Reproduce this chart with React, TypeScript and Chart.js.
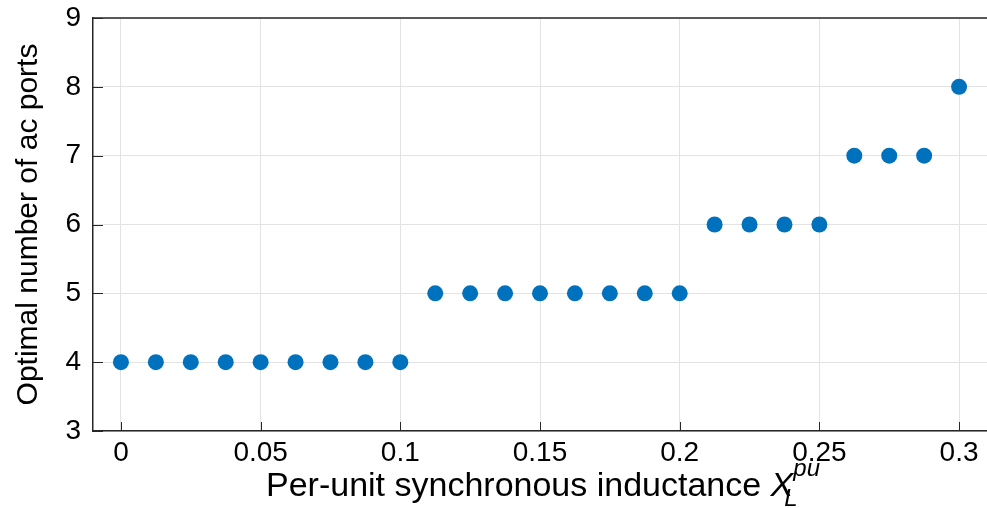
import React, { useEffect, useRef } from "react";
import { Chart, registerables } from "chart.js";

Chart.register(...registerables);

const inductanceValues = [0, 0.0125, 0.025, 0.0375, 0.05, 0.0625, 0.075, 0.0875, 0.1, 0.1125, 0.125, 0.1375, 0.15, 0.1625, 0.175, 0.1875, 0.2, 0.2125, 0.225, 0.2375, 0.25, 0.2625, 0.275, 0.2875, 0.3];
const optimalPorts = [4, 4, 4, 4, 4, 4, 4, 4, 4, 5, 5, 5, 5, 5, 5, 5, 5, 6, 6, 6, 6, 7, 7, 7, 8];
const xTickValues = [0, 0.05, 0.1, 0.15, 0.2, 0.25, 0.3];
const xTickLabels = ["0", "0.05", "0.1", "0.15", "0.2", "0.25", "0.3"];
const yTickValues = [3, 4, 5, 6, 7, 8, 9];
const xTitleMain = "Per-unit synchronous inductance ";
const xTitleSymbol = "X";
const xTitleSub = "L";
const xTitleSup = "pu";
const yTitle = "Optimal number of ac ports";

const FONT = "'Liberation Sans', Arial, sans-serif";
const AXIS_COLOR = "#262626";

const framePlugin = {
  id: "framePlugin",
  afterDraw(chart: any) {
    const ctx = chart.ctx;
    const { left, right, top, bottom } = chart.chartArea;
    const xs = chart.scales.x;
    const ys = chart.scales.y;
    ctx.save();
    ctx.strokeStyle = AXIS_COLOR;
    ctx.lineWidth = 1.5;
    ctx.beginPath();
    ctx.moveTo(left, top);
    ctx.lineTo(right, top);
    ctx.stroke();
    ctx.lineWidth = 1;
    ctx.beginPath();
    for (const v of yTickValues) {
      const py = Math.round(ys.getPixelForValue(v)) + 0.5;
      ctx.moveTo(left, py);
      ctx.lineTo(left + 10, py);
    }
    for (const v of xTickValues) {
      const px = Math.round(xs.getPixelForValue(v)) + 0.5;
      ctx.moveTo(px, bottom);
      ctx.lineTo(px, bottom - 9);
    }
    ctx.stroke();

    // x title with italic symbol, subscript and superscript
    ctx.fillStyle = "#000";
    ctx.textBaseline = "alphabetic";
    ctx.textAlign = "left";
    const mainFont = `34px ${FONT}`;
    const symFont = `italic 34px ${FONT}`;
    const smallFont = `italic 24px ${FONT}`;
    ctx.font = mainFont;
    const wMain = ctx.measureText(xTitleMain).width;
    ctx.font = symFont;
    const wSym = ctx.measureText(xTitleSymbol).width;
    ctx.font = smallFont;
    const wSup = ctx.measureText(xTitleSup).width;
    const total = wMain + wSym + wSup;
    const cx = 543;
    let x = cx - total / 2;
    const base = 496;
    ctx.font = mainFont;
    ctx.fillText(xTitleMain, x, base);
    x += wMain;
    ctx.font = symFont;
    ctx.fillText(xTitleSymbol, x, base);
    x += wSym;
    ctx.font = smallFont;
    ctx.fillText(xTitleSub, x - 9, base + 10);
    ctx.fillText(xTitleSup, x, base - 20);

    // y title
    ctx.save();
    ctx.translate(29, (top + bottom) / 2);
    ctx.rotate(-Math.PI / 2);
    ctx.textAlign = "center";
    ctx.textBaseline = "middle";
    ctx.font = `30px ${FONT}`;
    ctx.fillText(yTitle, 0, 0);
    ctx.restore();

    ctx.restore();
  },
};

export default function App() {
  const canvasRef = useRef<HTMLCanvasElement | null>(null);

  useEffect(() => {
    const canvas = canvasRef.current;
    if (!canvas) return;
    const chart = new Chart(canvas, {
      type: "scatter",
      data: {
        datasets: [
          {
            data: inductanceValues.map((x, i) => ({ x, y: optimalPorts[i] })),
            backgroundColor: "#0072BD",
            borderWidth: 0,
            pointRadius: 8,
            pointHoverRadius: 8,
          },
        ],
      },
      options: {
        responsive: false,
        animation: false,
        devicePixelRatio: 1,
        layout: { autoPadding: false, padding: { top: 18, right: 0, left: 0, bottom: 0 } },
        plugins: {
          legend: { display: false },
          tooltip: { enabled: false },
        },
        scales: {
          x: {
            type: "linear",
            min: -0.01,
            max: 0.31,
            afterBuildTicks: (scale: any) => {
              scale.ticks = xTickValues.map((v) => ({ value: v }));
            },
            afterFit: (scale: any) => {
              scale.height = 77;
              scale.paddingLeft = 0;
              scale.paddingRight = 0;
            },
            ticks: {
              font: { family: FONT, size: 28 },
              color: "#000",
              padding: 5,
              maxRotation: 0,
              autoSkip: false,
              callback: (value: any) => {
                const i = xTickValues.findIndex((t) => Math.abs(t - Number(value)) < 1e-9);
                return i >= 0 ? xTickLabels[i] : "";
              },
            },
            grid: { color: "#e3e3e3", lineWidth: 1, drawTicks: false },
            border: { display: true, color: AXIS_COLOR, width: 1.5 },
          },
          y: {
            type: "linear",
            min: 3,
            max: 9,
            afterBuildTicks: (scale: any) => {
              scale.ticks = yTickValues.map((v) => ({ value: v }));
            },
            afterFit: (scale: any) => {
              scale.width = 93;
              scale.paddingTop = 0;
              scale.paddingBottom = 0;
            },
            ticks: {
              font: { family: FONT, size: 28 },
              color: "#000",
              padding: 12,
              autoSkip: false,
            },
            grid: { color: "#e3e3e3", lineWidth: 1, drawTicks: false },
            border: { display: true, color: AXIS_COLOR, width: 1.5 },
          },
        },
      },
      plugins: [framePlugin],
    });
    return () => chart.destroy();
  }, []);

  return (
    <div style={{ position: "absolute", left: 0, top: 0, width: 987, height: 508, background: "#fff" }}>
      <canvas ref={canvasRef} width={987} height={508} style={{ display: "block" }} />
    </div>
  );
}
